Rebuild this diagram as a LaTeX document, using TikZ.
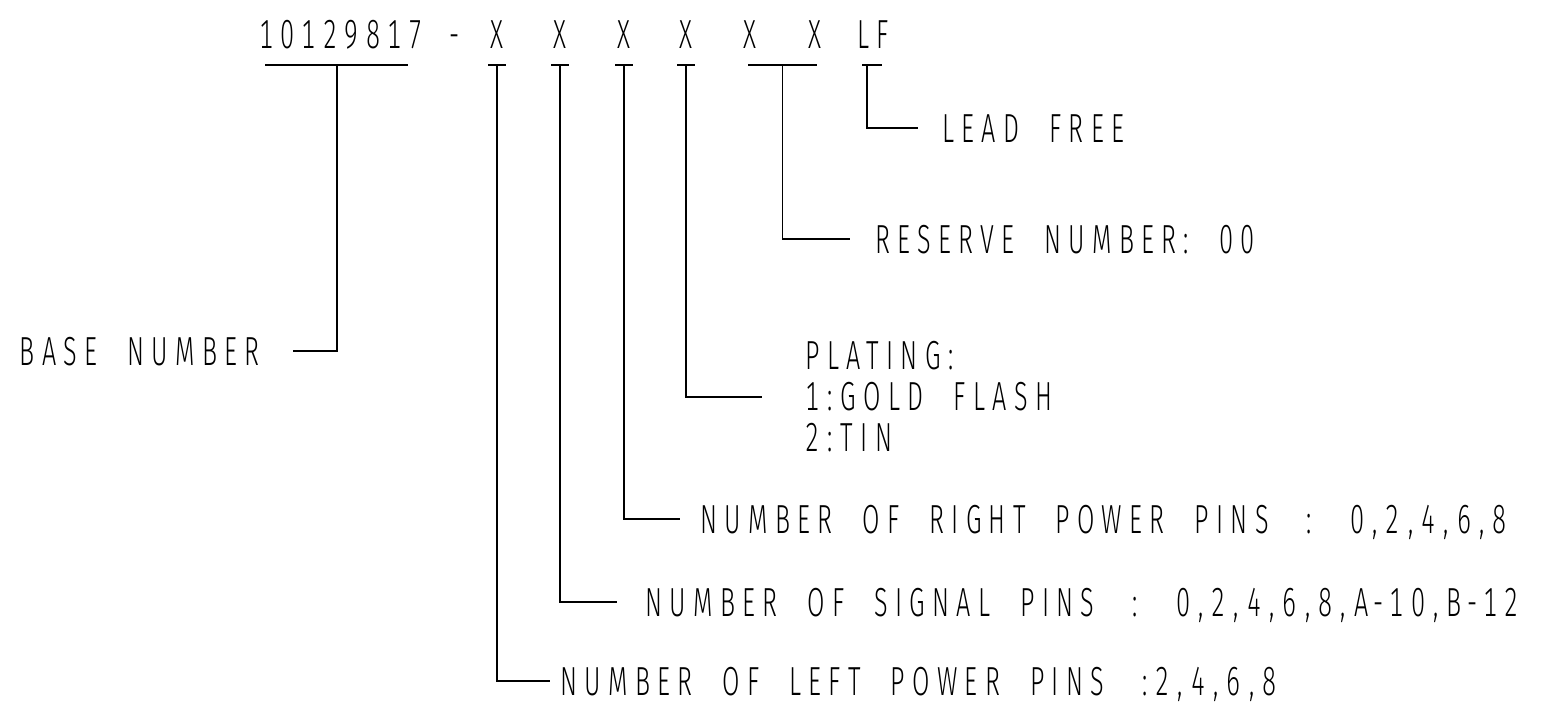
\documentclass[tikz,border=0pt]{standalone}
\usepackage{fontspec}
\usetikzlibrary{calc}
\newfontfamily\cadfont{Fira Sans Light}[FakeStretch=0.62,LetterSpace=18,WordSpace=2.1,Numbers=Monospaced]
% punctuation gets a full character cell, as in the drawing font
\newcommand\pcell[1]{\makebox[10.75pt][c]{#1}}
\begin{document}
\begin{tikzpicture}[x=0.5pt,y=-0.5pt,
    cad/.style={font=\cadfont\fontsize{20.3}{20.5}\selectfont, inner sep=0pt, text height=14pt, text depth=0pt},
    cadlines/.style={font=\cadfont\fontsize{20.3}{20.5}\selectfont, inner sep=0pt, align=left},
    leader/.style={line width=0.8pt}]
\useasboundingbox (0,0) rectangle (1560,709);
% part number
\node[cad] (num) at (341,34) {10129817};
\node[cad] (dash) at (455,34) {-};
\foreach \i/\x in {1/497,2/560,3/624,4/686,5/750,6/815}
    \node[cad] (x\i) at (\x,34) {X};
\node[cad] (lf) at (873,34) {LF};
\coordinate (tick) at (0,65);
% callouts
\node[cad, anchor=east] (base) at (260,351) {BASE NUMBER};
\node[cad, anchor=west] (leftpins) at (560,681) {NUMBER OF LEFT POWER PINS \pcell{:}2\pcell{,}4\pcell{,}6\pcell{,}8};
\node[cad, anchor=west] (sigpins) at (645,602) {NUMBER OF SIGNAL PINS \pcell{:} 0\pcell{,}2\pcell{,}4\pcell{,}6\pcell{,}8\pcell{,}A\pcell{-}10\pcell{,}B\pcell{-}12};
\node[cad, anchor=west] (rightpins) at (700,519) {NUMBER OF RIGHT POWER PINS \pcell{:} 0\pcell{,}2\pcell{,}4\pcell{,}6\pcell{,}8};
\node[cadlines, anchor=west] (plating) at (805,397) {PLATING\pcell{:}\\1\pcell{:}GOLD FLASH\\2\pcell{:}TIN};
\node[cad, anchor=west] (reserve) at (875,239) {RESERVE NUMBER: 00};
\node[cad, anchor=west] (leadfree) at (942,128) {LEAD FREE};
% leaders
\draw[leader] ($(num |- tick)+(-76,0)$) -- ($(num |- tick)+(67,0)$);
\draw[leader] ($(num |- tick)+(-4,0)$) |- ($(base.east)+(33,0)$);
\foreach \i/\lbl/\gap in {1/leftpins/10,2/sigpins/28,3/rightpins/20,4/plating/43}{
    \draw[leader] ($(x\i |- tick)+(-9,0)$) -- ($(x\i |- tick)+(9,0)$);
    \draw[leader] (x\i |- tick) |- ($(\lbl.west)+(-\gap,0)$);
}
\draw[leader] ($(x5 |- tick)+(-2,0)$) -- ($(x6 |- tick)+(2,0)$);
\draw[leader] ($(x5 |- tick)!0.5!(x6 |- tick)$) |- ($(reserve.west)+(-25,0)$);
\draw[leader] ($(lf |- tick)+(-11,0)$) -- ($(lf |- tick)+(9,0)$);
\draw[leader] ($(lf |- tick)+(-6,0)$) |- ($(leadfree.west)+(-24,0)$);
\end{tikzpicture}
\end{document}
